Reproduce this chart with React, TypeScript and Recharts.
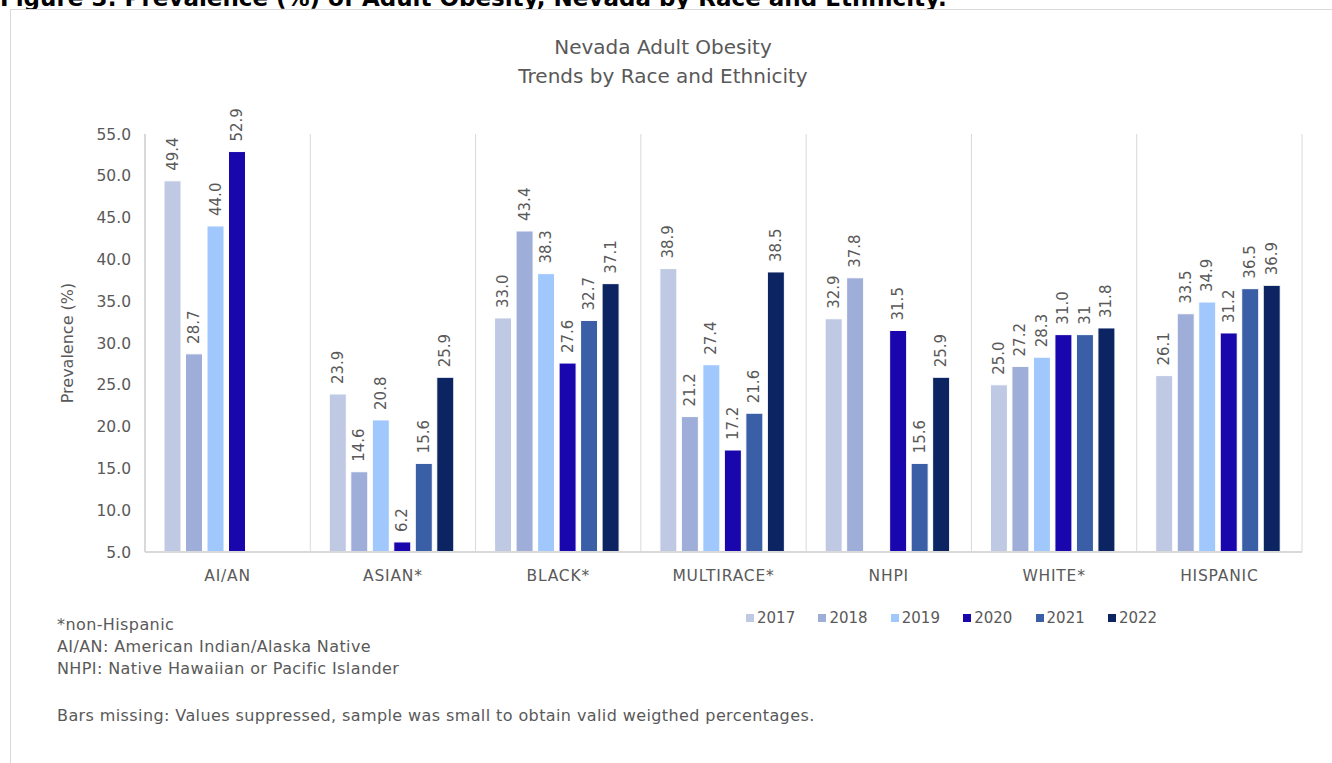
import React from "react";
import { BarChart, Bar, XAxis, YAxis, CartesianGrid, LabelList } from "recharts";

const groups = ["AI/AN", "ASIAN*", "BLACK*", "MULTIRACE*", "NHPI", "WHITE*", "HISPANIC"];
const years = ["2017", "2018", "2019", "2020", "2021", "2022"];
const y2017 = [49.4, 23.9, 33.0, 38.9, 32.9, 25.0, 26.1];
const y2018 = [28.7, 14.6, 43.4, 21.2, 37.8, 27.2, 33.5];
const y2019 = [44.0, 20.8, 38.3, 27.4, null, 28.3, 34.9];
const y2020 = [52.9, 6.2, 27.6, 17.2, 31.5, 31.0, 31.2];
const y2021 = [null, 15.6, 32.7, 21.6, 15.6, 31.0, 36.5];
const y2022 = [null, 25.9, 37.1, 38.5, 25.9, 31.8, 36.9];
// the source prints this one label without a decimal
const labelOverrides: Record<string, string> = { "WHITE*|2021": "31" };
const yTicks = [5, 10, 15, 20, 25, 30, 35, 40, 45, 50, 55];

const COLORS = ["#c0c9e4", "#9eaed8", "#a1c8fc", "#1a06ad", "#3a5fa6", "#0c2461"];
const series = [y2017, y2018, y2019, y2020, y2021, y2022];

const data = groups.map((g, i) => {
  const row: Record<string, string | number | null> = { group: g };
  years.forEach((y, k) => {
    const v = series[k][i];
    row[y] = v;
    row[`${y}_label`] = v == null ? null : labelOverrides[`${g}|${y}`] ?? v.toFixed(1);
  });
  return row;
});

const TEXT = "#595959";
const FONT = "'DejaVu Sans', sans-serif";

const renderLabel = (props: any) => {
  const { x, y, width, value } = props;
  if (value == null) return null;
  const cx = x + width / 2;
  const cy = y - 10;
  return (
    <text
      x={cx}
      y={cy}
      transform={`rotate(-90, ${cx}, ${cy})`}
      textAnchor="start"
      dominantBaseline="central"
      fill={TEXT}
      fontSize={15}
      fontFamily={FONT}
    >
      {value}
    </text>
  );
};

export default function App() {
  return (
    <div style={{ position: "absolute", left: 0, top: 0, width: 1332, height: 763, background: "#fff", overflow: "hidden" }}>
      <div
        style={{
          position: "absolute",
          left: 0,
          top: -15,
          fontFamily: "'DejaVu Sans', sans-serif",
          fontWeight: "bold",
          fontSize: 23,
          color: "#000",
          whiteSpace: "nowrap",
        }}
      >
        Figure 3: Prevalence (%) of Adult Obesity, Nevada by Race and Ethnicity.
      </div>
      <div
        style={{
          position: "absolute",
          left: 10,
          top: 9,
          width: 1340,
          height: 800,
          border: "1px solid #d9d9d9",
          background: "#fff",
        }}
      />
      <div
        style={{
          position: "absolute",
          left: 0,
          top: 33,
          width: 1326,
          textAlign: "center",
          fontFamily: FONT,
          fontSize: 20,
          lineHeight: "29px",
          color: TEXT,
        }}
      >
        Nevada Adult Obesity
        <br />
        Trends by Race and Ethnicity
      </div>
      <div style={{ position: "absolute", left: 0, top: 0 }}>
        <BarChart
          width={1332}
          height={763}
          data={data}
          margin={{ top: 134, right: 30, bottom: 181, left: 85 }}
          barCategoryGap="11.5%"
          barGap={4.5}
        >
          <CartesianGrid
            horizontal={false}
            stroke="#d9d9d9"
            verticalCoordinatesGenerator={({ offset }: any) =>
              groups.map((_, i) => offset.left + ((i + 1) * offset.width) / groups.length)
            }
          />
          <XAxis
            dataKey="group"
            axisLine={{ stroke: "#d9d9d9", strokeWidth: 2 }}
            tickLine={false}
            height={30}
            tick={{ fill: TEXT, fontSize: 15.5, fontFamily: FONT, letterSpacing: 0.8 }}
            tickMargin={12}
            interval={0}
          />
          <YAxis
            domain={[5, 55]}
            ticks={yTicks}
            width={60}
            axisLine={{ stroke: "#d9d9d9", strokeWidth: 2 }}
            tickLine={false}
            tick={{ fill: TEXT, fontSize: 15.5, fontFamily: FONT }}
            tickMargin={8}
            tickFormatter={(v: number) => v.toFixed(1)}
            allowDataOverflow
            label={{
              value: "Prevalence (%)",
              angle: -90,
              position: "insideLeft",
              offset: -18,
              style: { fill: TEXT, fontSize: 16, fontFamily: FONT, textAnchor: "middle" },
            }}
          />
          {years.map((y, i) => (
            <Bar key={y} dataKey={y} fill={COLORS[i]} stroke="#fff" strokeWidth={1} isAnimationActive={false}>
              <LabelList dataKey={`${y}_label`} content={renderLabel} />
            </Bar>
          ))}
        </BarChart>
      </div>
      <div
        style={{
          position: "absolute",
          left: 746,
          top: 608,
          display: "flex",
          fontFamily: FONT,
          fontSize: 15,
          lineHeight: "20px",
          color: TEXT,
        }}
      >
        {years.map((y, i) => (
          <div key={y} style={{ display: "flex", alignItems: "center", width: 72.4 }}>
            <span style={{ width: 8, height: 8, background: COLORS[i], marginRight: 3, display: "inline-block" }} />
            {y}
          </div>
        ))}
      </div>
      <div
        style={{
          position: "absolute",
          left: 57,
          top: 614,
          fontFamily: FONT,
          fontSize: 16,
          lineHeight: "22px",
          color: TEXT,
          whiteSpace: "nowrap",
          letterSpacing: 0.4,
        }}
      >
        <div>*non-Hispanic</div>
        <div>AI/AN: American Indian/Alaska Native</div>
        <div>NHPI: Native Hawaiian or Pacific Islander</div>
        <div style={{ marginTop: 25 }}>
          Bars missing: Values suppressed, sample was small to obtain valid weigthed percentages.
        </div>
      </div>
    </div>
  );
}
